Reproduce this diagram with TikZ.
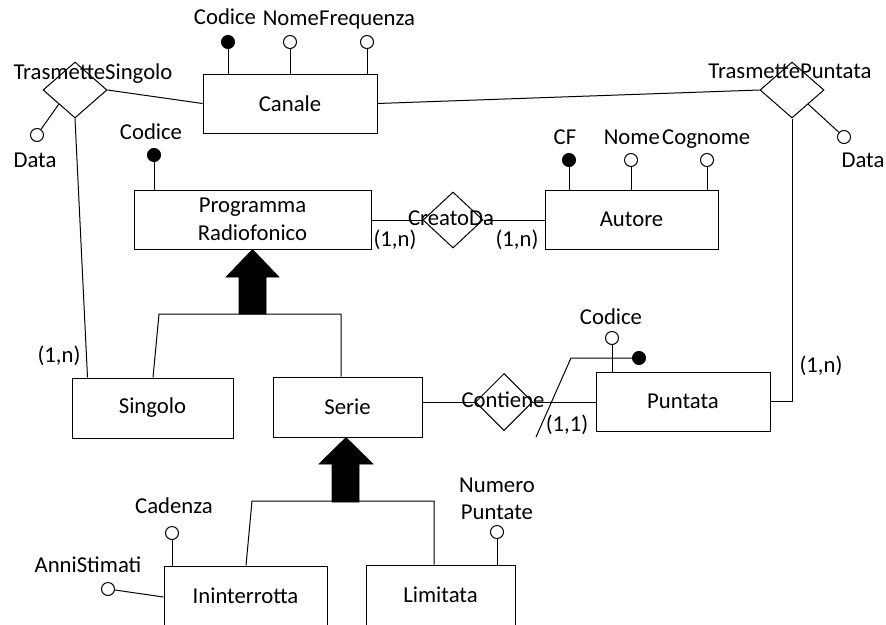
\documentclass[tikz,border=0pt]{standalone}
\usepackage{fontspec}
\setmainfont{Carlito}
\usetikzlibrary{shapes.geometric}
\begin{document}
\begin{tikzpicture}[x=1pt,y=-1pt,
  every node/.style={font=\fontsize{22.7}{27.5}\selectfont},
  ent/.style={draw,line width=1pt,rectangle,inner sep=0pt,align=center},
  rel/.style={draw,line width=1pt,diamond,inner sep=0pt,minimum width=64pt,minimum height=56pt},
  att/.style={draw,line width=1pt,circle,inner sep=0pt,minimum size=13pt,fill=white},
  key/.style={att,fill=black},
  lbl/.style={inner sep=0pt,text height=16pt,text depth=5pt},
  lbltwo/.style={inner sep=0pt,align=center},
  conn/.style={line width=1pt},
  isa/.style={fill=black,draw=black,line width=0.6pt}]
\useasboundingbox (0,0) rectangle (886,624);

% entities
\node[ent,minimum width=174pt,minimum height=59pt] (canale) at (290,103.5) {Canale};
\node[ent,minimum width=237pt,minimum height=59pt] (prog) at (252.5,219.5) {Programma\\Radiofonico};
\node[ent,minimum width=173pt,minimum height=59pt] (autore) at (631.5,219.5) {Autore};
\node[ent,minimum width=161pt,minimum height=60pt] (singolo) at (152.5,408) {Singolo};
\node[ent,minimum width=149pt,minimum height=60pt] (serie) at (347.5,407) {Serie};
\node[ent,minimum width=174pt,minimum height=59pt] (puntata) at (683,401.5) {Puntata};
\node[ent,minimum width=163pt,minimum height=59pt] (inint) at (245.5,595.5) {Ininterrotta};
\node[ent,minimum width=149pt,minimum height=60pt] (limitata) at (440.5,595) {Limitata};

% relationships
\node[rel] (ts) at (75,90) {};
\node[lbl] (tsl) at (93,74) {TrasmetteSingolo};
\node[rel] (tp) at (792,90) {};
\node[lbl] (tpl) at (790,73) {TrasmettePuntata};
\node[rel,minimum width=60pt,minimum height=56pt] (creato) at (453,220) {};
\node[rel,minimum width=57pt,minimum height=57pt] (contiene) at (504,402) {};

% connectors
\draw[conn] (ts.east) -- (canale.west);
\draw[conn] (canale.east) -- (tp.west);
\draw[conn] (ts.south) -- ([xshift=16pt]singolo.north west);
\draw[conn] (tp.south) |- (puntata.east);
\draw[conn] (prog.east |- creato) -- (creato.west);
\draw[conn] (creato.east) -- (autore.west |- creato);
\draw[conn] (serie.east |- contiene) -- (contiene.west);
\draw[conn] (contiene.east) -- (puntata.west |- contiene);

\node[lbl] (creatol) at (451,220) {CreatoDa};
\node[lbl] (contienel) at (503,402) {Contiene};

% attributes of Canale
\node[key] (cCod) at (228,42) {};
\node[att] (cNome) at (290,42) {};
\node[att] (cFreq) at (367,42) {};
\draw[conn] (cCod) -- (cCod |- canale.north);
\draw[conn] (cNome) -- (cNome |- canale.north);
\draw[conn] (cFreq) -- (cFreq |- canale.north);
\node[lbl] (cCodl) at (225,19) {Codice};
\node[lbl,anchor=east] (cNomel) at (319,20) {Nome};
\node[lbl,anchor=west] (cFreql) at (cNomel.east) {Frequenza};

% relationship attributes
\node[att] (dS) at (37,135) {};
\draw[conn] (ts.south west) -- (dS);
\node[lbl] (dSl) at (35,162) {Data};
\node[att] (dP) at (844,137) {};
\draw[conn] (tp.south east) -- (dP);
\node[lbl] (dPl) at (863,162) {Data};

% Programma attribute
\node[key] (pCod) at (154,155) {};
\draw[conn] (pCod) -- (pCod |- prog.north);
\node[lbl] (pCodl) at (151,134) {Codice};

% Autore attributes
\node[key] (aCF) at (569,160) {};
\node[att] (aNome) at (631,160) {};
\node[att] (aCog) at (707,160) {};
\draw[conn] (aCF) -- (aCF |- autore.north);
\draw[conn] (aNome) -- (aNome |- autore.north);
\draw[conn] (aCog) -- (aCog |- autore.north);
\node[lbl] (aCFl) at (565,139) {CF};
\node[lbl,anchor=east] (aNomel) at (660,139) {Nome};
\node[lbl,anchor=west] (aCogl) at (662,139) {Cognome};

% Puntata attributes and external identifier
\node[att] (puCod) at (612,338) {};
\draw[conn] (puCod) -- (puCod |- puntata.north);
\node[lbl] (puCodl) at (611,319) {Codice};
\node[key] (puKey) at (639,358) {};
\coordinate (extA) at (571,358);
\coordinate (extB) at (536,437);
\draw[conn] (puKey) -- (extA) -- (extB);

% Ininterrotta / Limitata attributes
\node[att] (iCad) at (172,533) {};
\draw[conn] (iCad) -- (iCad |- inint.north);
\node[lbl] (iCadl) at (174,508) {Cadenza};
\node[att] (iAnni) at (108,589) {};
\draw[conn] (iAnni) -- ([yshift=-1.5pt]inint.west);
\node[lbl] (iAnnil) at (88,567) {AnniStimati};
\node[att] (lNum) at (497,532) {};
\draw[conn] (lNum) -- (lNum |- limitata.north);
\node[lbltwo] (lNuml) at (497,499) {Numero\\Puntate};

% cardinalities
\node[lbl] at (59,357) {(1,n)};
\node[lbl] at (395,241) {(1,n)};
\node[lbl] at (517,241) {(1,n)};
\node[lbl] at (821,367) {(1,n)};
\node[lbl] at (567,426) {(1,1)};

% ISA 1
\draw[isa] (prog.south) -- (279,277) -- (266,277) -- (266,314) -- (239,314) -- (239,277) -- (226,277) -- cycle;
\coordinate (isa1L) at (159,314);
\coordinate (isa1R) at (341,314);
\draw[conn] (singolo.north) ++(0.5,0) -- (isa1L) -- (isa1R) -- (isa1R |- serie.north);

% ISA 2
\draw[isa] ([xshift=-1.5pt]serie.south) -- (373,464) -- (359,464) -- (359,502) -- (332,502) -- (332,464) -- (319,464) -- cycle;
\coordinate (isa2L) at (252,501);
\coordinate (isa2R) at (434,501);
\draw[conn] (inint.north) ++(0.5,0) -- (isa2L) -- (isa2R) -- (isa2R |- limitata.north);
\end{tikzpicture}
\end{document}
